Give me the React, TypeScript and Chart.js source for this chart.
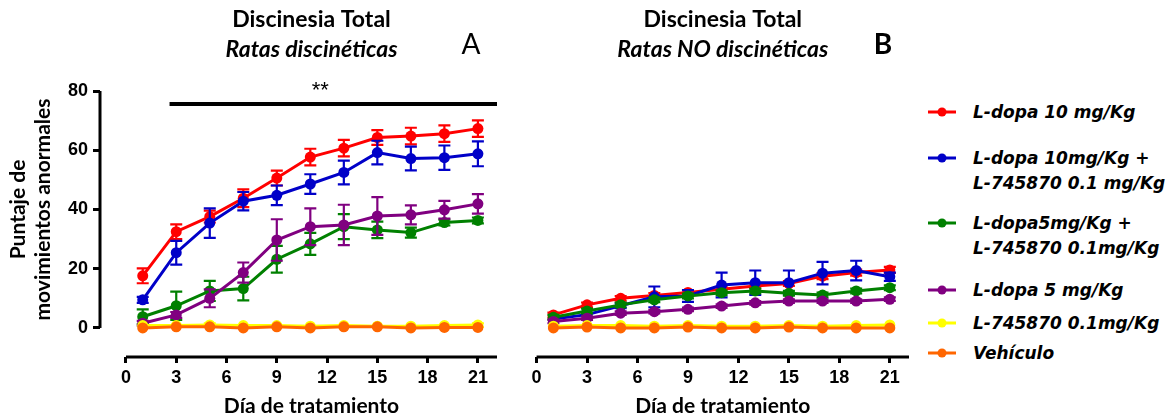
import React, { useEffect, useRef } from "react";
import { Chart, registerables } from "chart.js";
Chart.register(...registerables);

// ---------- data ----------
const days = [1, 3, 5, 7, 9, 11, 13, 15, 17, 19, 21];
const xTickValues = [0, 3, 6, 9, 12, 15, 18, 21];
const yTickValues = [0, 20, 40, 60, 80];

const seriesNames = [
  "L-dopa 10 mg/Kg",
  "L-dopa 10mg/Kg + L-745870 0.1 mg/Kg",
  "L-dopa5mg/Kg + L-745870 0.1mg/Kg",
  "L-dopa 5 mg/Kg",
  "L-745870 0.1mg/Kg",
  "Vehículo",
];
const legendLines = [
  ["L-dopa 10 mg/Kg"],
  ["L-dopa 10mg/Kg +", "L-745870 0.1 mg/Kg"],
  ["L-dopa5mg/Kg +", "L-745870 0.1mg/Kg"],
  ["L-dopa 5 mg/Kg"],
  ["L-745870 0.1mg/Kg"],
  ["Vehículo"],
];
const seriesColors = ["#ff0000", "#0000c8", "#008000", "#800080", "#ffff00", "#ff6600"];

// Panel A: dyskinetic rats
const aLdopa10 = [17.6, 32.5, 37.6, 43.8, 50.6, 57.7, 60.7, 64.3, 64.8, 65.6, 67.3];
const aLdopa10Err = [2.5, 2.5, 2, 3, 2.5, 2.8, 2.8, 2.5, 2.8, 2.8, 2.8];
const aLdopa10L7 = [9.5, 25.4, 35.4, 42.8, 44.8, 48.6, 52.5, 59.2, 57.2, 57.5, 58.8];
const aLdopa10L7Err = [1, 4, 5, 3.1, 3.3, 3.3, 4, 4, 4, 4.1, 4.2];
const aLdopa5L7 = [3.8, 7.5, 12.5, 13.3, 23.2, 28.4, 34.2, 33.1, 32.2, 35.6, 36.3];
const aLdopa5L7Err = [2.5, 4.8, 3.4, 4, 4.5, 3.7, 4.2, 2.8, 1.7, 1, 1];
const aLdopa5 = [1.6, 4.4, 10, 18.7, 29.7, 34.2, 34.8, 37.8, 38.2, 39.9, 41.9];
const aLdopa5Err = [0.8, 1, 3, 3.4, 7, 6.2, 6.8, 6.4, 3.2, 3, 3.3];
const aL7 = [0.8, 0.8, 1, 0.8, 0.8, 0.6, 0.8, 0.6, 0.6, 0.8, 1];
const aL7Err = [0.5, 0.5, 0.6, 0.5, 0.5, 0.5, 0.5, 0.5, 0.5, 0.5, 0.6];
const aVeh = [0, 0.4, 0.4, 0, 0.4, 0, 0.4, 0.4, 0, 0.2, 0.2];
const aVehErr = [0, 0, 0, 0, 0, 0, 0, 0, 0, 0, 0];

// Panel B: non-dyskinetic rats
const bLdopa10 = [4.4, 7.8, 10, 11, 12, 13.1, 14.2, 15, 17.5, 18.7, 19.6];
const bLdopa10Err = [0.8, 0.8, 0.8, 0.8, 0.8, 0.8, 0.8, 0.8, 1, 1, 1];
const bLdopa10L7 = [3, 4.5, 7.5, 10.5, 10.8, 14.5, 15.3, 15.3, 18.5, 19.4, 17.3];
const bLdopa10L7Err = [0.5, 0.5, 0.8, 3.5, 2, 4.2, 4.1, 4.1, 3.8, 3.3, 1.4];
const bLdopa5L7 = [3.6, 5.7, 7.8, 9.5, 10.8, 11.9, 12.5, 11.7, 11.1, 12.5, 13.6];
const bLdopa5L7Err = [0.8, 0.8, 0.8, 0.8, 0.8, 0.8, 0.8, 0.8, 0.8, 0.8, 0.8];
const bLdopa5 = [2.2, 3.3, 5, 5.5, 6.3, 7.4, 8.5, 9.1, 9.1, 9.1, 9.7];
const bLdopa5Err = [0.6, 0.6, 0.6, 0.6, 0.6, 0.6, 0.6, 0.6, 0.6, 0.6, 0.6];
const bL7 = [0.6, 0.8, 0.8, 0.6, 0.8, 0.6, 0.6, 0.8, 0.6, 0.8, 1];
const bL7Err = [0.4, 0.4, 0.4, 0.4, 0.4, 0.4, 0.4, 0.4, 0.4, 0.4, 0.5];
const bVeh = [0, 0.3, 0, 0, 0.3, 0, 0, 0.3, 0, 0, 0];
const bVehErr = [0, 0, 0, 0, 0, 0, 0, 0, 0, 0, 0];

const panelAValues = [aLdopa10, aLdopa10L7, aLdopa5L7, aLdopa5, aL7, aVeh];
const panelAErrors = [aLdopa10Err, aLdopa10L7Err, aLdopa5L7Err, aLdopa5Err, aL7Err, aVehErr];
const panelBValues = [bLdopa10, bLdopa10L7, bLdopa5L7, bLdopa5, bL7, bVeh];
const panelBErrors = [bLdopa10Err, bLdopa10L7Err, bLdopa5L7Err, bLdopa5Err, bL7Err, bVehErr];

// significance bar (panel A)
const sigStartDay = 2.6;
const sigLevel = 75.6;
const sigLabel = "**";
const sigLabelDay = 11.6;

const X_MIN = -1.55;
const X_MAX = 22.14;
const Y_MIN = -9.8;
const Y_MAX = 80;

const TITLE_FONT = "Lato, 'Open Sans', sans-serif";
const TICK_FONT = "'Liberation Sans', Arial, sans-serif";

// ---------- plugins ----------
const errorBarPlugin = {
  id: "errorBars",
  afterDatasetDraw(chart: any, args: any) {
    const ds = chart.data.datasets[args.index];
    const errs: number[] = ds.errors || [];
    const yScale = chart.scales.y;
    const ctx = chart.ctx;
    ctx.save();
    ctx.strokeStyle = ds.borderColor;
    ctx.lineWidth = 2.2;
    args.meta.data.forEach((pt: any, i: number) => {
      const e = errs[i];
      if (!e) return;
      const v = ds.data[i].y;
      const yTop = yScale.getPixelForValue(v + e);
      const yBot = yScale.getPixelForValue(v - e);
      if (Math.abs(yBot - yTop) < 3) return;
      const x = pt.x;
      ctx.beginPath();
      ctx.moveTo(x, yTop);
      ctx.lineTo(x, yBot);
      ctx.moveTo(x - 6, yTop);
      ctx.lineTo(x + 6, yTop);
      ctx.moveTo(x - 6, yBot);
      ctx.lineTo(x + 6, yBot);
      ctx.stroke();
    });
    ctx.restore();
  },
};

const decorPlugin = {
  id: "panelDecor",
  beforeDatasetsDraw(chart: any, _args: any, opts: any) {
    const { ctx, chartArea } = chart;
    const x = chart.scales.x;
    const y = chart.scales.y;
    ctx.save();
    ctx.strokeStyle = "#000";
    ctx.lineWidth = 3;
    // x axis line (offset below the data)
    ctx.beginPath();
    ctx.moveTo(x.getPixelForValue(0), chartArea.bottom);
    ctx.lineTo(chartArea.right, chartArea.bottom);
    ctx.stroke();
    if (opts.showYAxis) {
      ctx.beginPath();
      ctx.moveTo(chartArea.left, y.getPixelForValue(0));
      ctx.lineTo(chartArea.left, y.getPixelForValue(Y_MAX));
      ctx.stroke();
    }
    ctx.restore();
  },
  afterDraw(chart: any, _args: any, opts: any) {
    const { ctx, chartArea } = chart;
    const x = chart.scales.x;
    const y = chart.scales.y;
    const xMid = (x.getPixelForValue(0) + chartArea.right) / 2;
    ctx.save();
    ctx.fillStyle = "#000";
    ctx.textAlign = "center";
    ctx.textBaseline = "middle";
    ctx.font = `bold 23px ${TITLE_FONT}`;
    ctx.fillText(opts.title1, xMid, 20);
    ctx.font = `italic bold 23px ${TITLE_FONT}`;
    ctx.fillText(opts.title2, xMid, 50);
    ctx.font = `${opts.letterBold ? "bold " : ""}28px ${TITLE_FONT}`;
    ctx.fillText(opts.letter, chartArea.right - 26, 45);
    ctx.font = `bold 21px ${TITLE_FONT}`;
    ctx.fillText("Día de tratamiento", xMid, 406);
    if (opts.showYAxis) {
      const yMid = (y.getPixelForValue(0) + y.getPixelForValue(Y_MAX)) / 2;
      ctx.save();
      ctx.translate(18, yMid);
      ctx.rotate(-Math.PI / 2);
      ctx.fillText("Puntaje de", 0, 0);
      ctx.restore();
      ctx.save();
      ctx.translate(43, yMid);
      ctx.rotate(-Math.PI / 2);
      ctx.fillText("movimientos anormales", 0, 0);
      ctx.restore();
    }
    if (opts.sig) {
      const sy = y.getPixelForValue(sigLevel);
      ctx.strokeStyle = "#000";
      ctx.lineWidth = 4;
      ctx.beginPath();
      ctx.moveTo(x.getPixelForValue(sigStartDay), sy);
      ctx.lineTo(chartArea.right, sy);
      ctx.stroke();
      ctx.font = `22px ${TICK_FONT}`;
      ctx.fillText(sigLabel, x.getPixelForValue(sigLabelDay), sy - 13);
    }
    ctx.restore();
  },
};

function buildConfig(values: number[][], errors: number[][], panel: "A" | "B") {
  const showY = panel === "A";
  return {
    type: "line",
    data: {
      datasets: values.map((vals, i) => ({
        label: seriesNames[i],
        data: days.map((d, j) => ({ x: d, y: vals[j] })),
        errors: errors[i],
        borderColor: seriesColors[i],
        backgroundColor: seriesColors[i],
        pointBackgroundColor: seriesColors[i],
        pointBorderColor: seriesColors[i],
        pointRadius: 5.5,
        pointBorderWidth: 0,
        borderWidth: 3,
        tension: 0,
        clip: false,
        order: values.length - i,
      })),
    },
    options: {
      responsive: false,
      animation: false,
      layout: { padding: { top: 91, right: showY ? 13 : 6, bottom: 0, left: showY ? 0 : 2 } },
      plugins: {
        legend: { display: false },
        tooltip: { enabled: false },
        panelDecor: {
          title1: "Discinesia Total",
          title2: panel === "A" ? "Ratas discinéticas" : "Ratas NO discinéticas",
          letter: panel,
          letterBold: panel === "B",
          showYAxis: showY,
          sig: panel === "A",
        },
      },
      scales: {
        x: {
          type: "linear",
          min: X_MIN,
          max: X_MAX,
          afterBuildTicks: (s: any) => {
            s.ticks = xTickValues.map((v) => ({ value: v }));
          },
          afterFit: (s: any) => {
            s.height = 59;
          },
          border: { display: false },
          grid: { drawOnChartArea: false, drawTicks: true, tickLength: 6, tickWidth: 3, tickColor: "#000" },
          ticks: {
            color: "#000",
            padding: 4,
            maxRotation: 0,
            autoSkip: false,
            font: { family: TICK_FONT, weight: "bold", size: 18 },
          },
        },
        y: {
          type: "linear",
          display: showY,
          min: Y_MIN,
          max: Y_MAX,
          afterBuildTicks: (s: any) => {
            s.ticks = yTickValues.map((v) => ({ value: v }));
          },
          afterFit: (s: any) => {
            if (showY) s.width = 100;
          },
          border: { display: false },
          grid: { drawOnChartArea: false, drawTicks: true, tickLength: 7, tickWidth: 3, tickColor: "#000" },
          ticks: {
            color: "#000",
            padding: 5,
            font: { family: TICK_FONT, weight: "bold", size: 18 },
          },
        },
      },
    },
    plugins: [errorBarPlugin, decorPlugin],
  } as any;
}

function Panel({ panel, left, width }: { panel: "A" | "B"; left: number; width: number }) {
  const ref = useRef<HTMLCanvasElement | null>(null);
  useEffect(() => {
    if (!ref.current) return;
    const cfg =
      panel === "A"
        ? buildConfig(panelAValues, panelAErrors, "A")
        : buildConfig(panelBValues, panelBErrors, "B");
    const chart = new Chart(ref.current, cfg);
    return () => chart.destroy();
  }, [panel]);
  return (
    <canvas
      ref={ref}
      width={width}
      height={416}
      style={{ position: "absolute", left, top: 0, width, height: 416 }}
    />
  );
}

const legendCenters = [[112], [158, 183], [223, 248], [290], [323], [353]];

function Legend() {
  return (
    <div style={{ position: "absolute", left: 0, top: 0 }}>
      {legendLines.map((lines, i) => (
        <React.Fragment key={i}>
          <svg
            width={30}
            height={12}
            style={{ position: "absolute", left: 927, top: legendCenters[i][0] - 6 }}
          >
            <line x1={1} y1={6} x2={29} y2={6} stroke={seriesColors[i]} strokeWidth={3} />
            <circle cx={15} cy={6} r={4.5} fill={seriesColors[i]} />
          </svg>
          {lines.map((t, k) => (
            <div
              key={k}
              style={{
                position: "absolute",
                left: 973,
                top: legendCenters[i][k] - 12,
                height: 24,
                lineHeight: "24px",
                whiteSpace: "nowrap",
                fontFamily: "'DejaVu Sans', Verdana, sans-serif",
                fontWeight: "bold",
                fontStyle: "italic",
                fontSize: 17,
                color: "#000",
              }}
            >
              {t}
            </div>
          ))}
        </React.Fragment>
      ))}
    </div>
  );
}

export default function App() {
  return (
    <div
      style={{
        position: "fixed",
        left: 0,
        top: 0,
        width: 1172,
        height: 416,
        background: "#fff",
        overflow: "hidden",
      }}
    >
      <Panel panel="A" left={0} width={510} />
      <Panel panel="B" left={505} width={410} />
      <Legend />
    </div>
  );
}
